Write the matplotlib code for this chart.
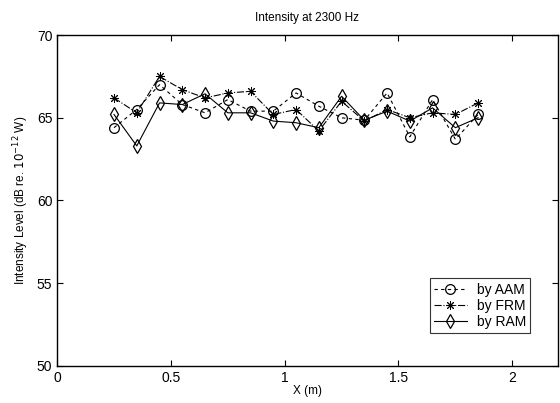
import numpy as np
import matplotlib
matplotlib.use("Agg")
import matplotlib.pyplot as plt

plt.rcParams['font.family'] = ['Liberation Sans', 'DejaVu Sans']

x = [0.25, 0.35, 0.45, 0.55, 0.65, 0.75, 0.85, 0.95, 1.05,
     1.15, 1.25, 1.35, 1.45, 1.55, 1.65, 1.75, 1.85]
aam = [64.4, 65.5, 67.0, 65.8, 65.3, 66.1, 65.4, 65.4, 66.5,
       65.7, 65.0, 64.85, 66.5, 63.85, 66.1, 63.7, 65.2]
frm = [66.2, 65.3, 67.5, 66.7, 66.2, 66.5, 66.6, 65.2, 65.5,
       64.2, 66.0, 64.8, 65.5, 65.0, 65.3, 65.2, 65.9]
ram = [65.2, 63.3, 65.9, 65.8, 66.45, 65.3, 65.3, 64.8, 64.7,
       64.4, 66.3, 64.85, 65.4, 64.8, 65.6, 64.4, 65.0]

xticks = [0, 0.5, 1, 1.5, 2]
xticklabels = ['0', '0.5', '1', '1.5', '2']
yticks = [50, 55, 60, 65, 70]

fig = plt.figure(figsize=(5.6, 4.03), dpi=100)
ax = fig.add_axes([0.102, 0.092, 0.894, 0.821])

ms = 7
ax.plot(x, aam, linestyle=(0, (3, 3)), color='black', lw=0.8,
        marker='o', mfc='none', mec='black', ms=ms, mew=0.9, label='by AAM')
ax.plot(x, frm, linestyle='-.', color='black', lw=0.8,
        marker=(8, 2, 0), mec='black', ms=6.5, mew=0.7, label='by FRM')
ax.plot(x, ram, linestyle='-', color='black', lw=0.8,
        marker='d', mfc='none', mec='black', ms=7.5, mew=0.9, label='by RAM')

ax.set_xlim(0, 2.2)
ax.set_ylim(50, 70)
ax.set_xticks(xticks)
ax.set_xticklabels(xticklabels)
ax.set_yticks(yticks)
ax.tick_params(direction='in', top=True, right=True, labelsize=10, length=4, width=0.8)
for s in ax.spines.values():
    s.set_linewidth(1.0)

ax.set_title('Intensity at 2300 Hz', fontsize=8.5, pad=10)
ax.set_xlabel('X (m)', fontsize=8.5, labelpad=0)
ax.set_ylabel(r'Intensity Level (dB re. $10^{-12}$ W)', fontsize=8.5, labelpad=4)

leg = ax.legend(loc='lower right', bbox_to_anchor=(0.945, 0.10), fontsize=10,
                frameon=True, fancybox=False, edgecolor='black',
                handlelength=2.4, borderpad=0.3, labelspacing=0.15, handletextpad=0.7,
                borderaxespad=0)
leg.get_frame().set_linewidth(0.8)

fig.savefig('out.png', dpi=100)
